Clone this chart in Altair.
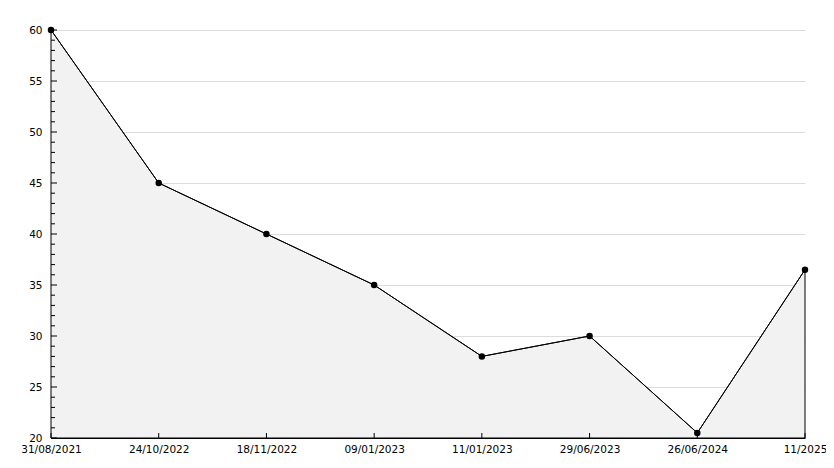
import altair as alt
import pandas as pd

dates = ["31/08/2021", "24/10/2022", "18/11/2022", "09/01/2023",
         "11/01/2023", "29/06/2023", "26/06/2024", "11/2025"]
values = [60, 45, 40, 35, 28, 30, 20.5, 36.5]

major_ticks = list(range(20, 61, 5))
minor_ticks = [v for v in range(21, 60) if v % 5 != 0]

W, H = 754, 408
FONT = "DejaVu Sans"

df = pd.DataFrame({"date": dates, "value": values})
df_major = pd.DataFrame({"v": major_ticks})
df_minor = pd.DataFrame({"v": minor_ticks})

xscale = alt.Scale(type="point", domain=dates, padding=0)
yscale = alt.Scale(domain=[20, 60], nice=False, zero=False)

x_enc = alt.X("date:N", scale=xscale, sort=dates,
              axis=alt.Axis(title=None, labelAngle=0, ticks=False, labelPadding=6,
                            domainColor="black", labelOverlap=False, labelBound=False,
                            labelFont=FONT, labelFontSize=10.5, labelColor="black",
                            grid=False, labelFlush=False))
y_enc = alt.Y("value:Q", scale=yscale,
              axis=alt.Axis(title=None, values=major_ticks, ticks=False, labelPadding=9,
                            domainColor="black", grid=True, gridColor="#dcdcdc",
                            labelFont=FONT, labelFontSize=10.5, labelColor="black"))

base = alt.Chart(df)

area = base.mark_area(color="#f2f2f2", stroke="black", strokeWidth=1,
                      line=False).encode(x=x_enc, y=y_enc, y2=alt.datum(20))
line = base.mark_line(color="black", strokeWidth=1).encode(
    x=alt.X("date:N", scale=xscale, sort=dates),
    y=alt.Y("value:Q", scale=yscale))
pts = base.mark_point(filled=True, color="black", size=42, shape="circle", opacity=1).encode(
    x=alt.X("date:N", scale=xscale, sort=dates),
    y=alt.Y("value:Q", scale=yscale))

ymaj = alt.Chart(df_major).mark_rule(color="black", strokeWidth=1).encode(
    y=alt.Y("v:Q", scale=yscale), x=alt.value(0), x2=alt.value(6))
ymin = alt.Chart(df_minor).mark_rule(color="black", strokeWidth=1).encode(
    y=alt.Y("v:Q", scale=yscale), x=alt.value(0), x2=alt.value(4))
xt = alt.Chart(df).mark_rule(color="black", strokeWidth=1).encode(
    x=alt.X("date:N", scale=xscale, sort=dates), y=alt.value(H - 5), y2=alt.value(H))

chart = alt.layer(area, line, ymaj, ymin, xt, pts).properties(
    width=W, height=H,
    autosize=alt.AutoSizeParams(type="none"),
    padding={"left": 43, "top": 22, "right": 21, "bottom": 22},
    background="white",
).configure_view(stroke=None)

chart.save("out.html", embed_options={"renderer": "svg", "actions": False})
